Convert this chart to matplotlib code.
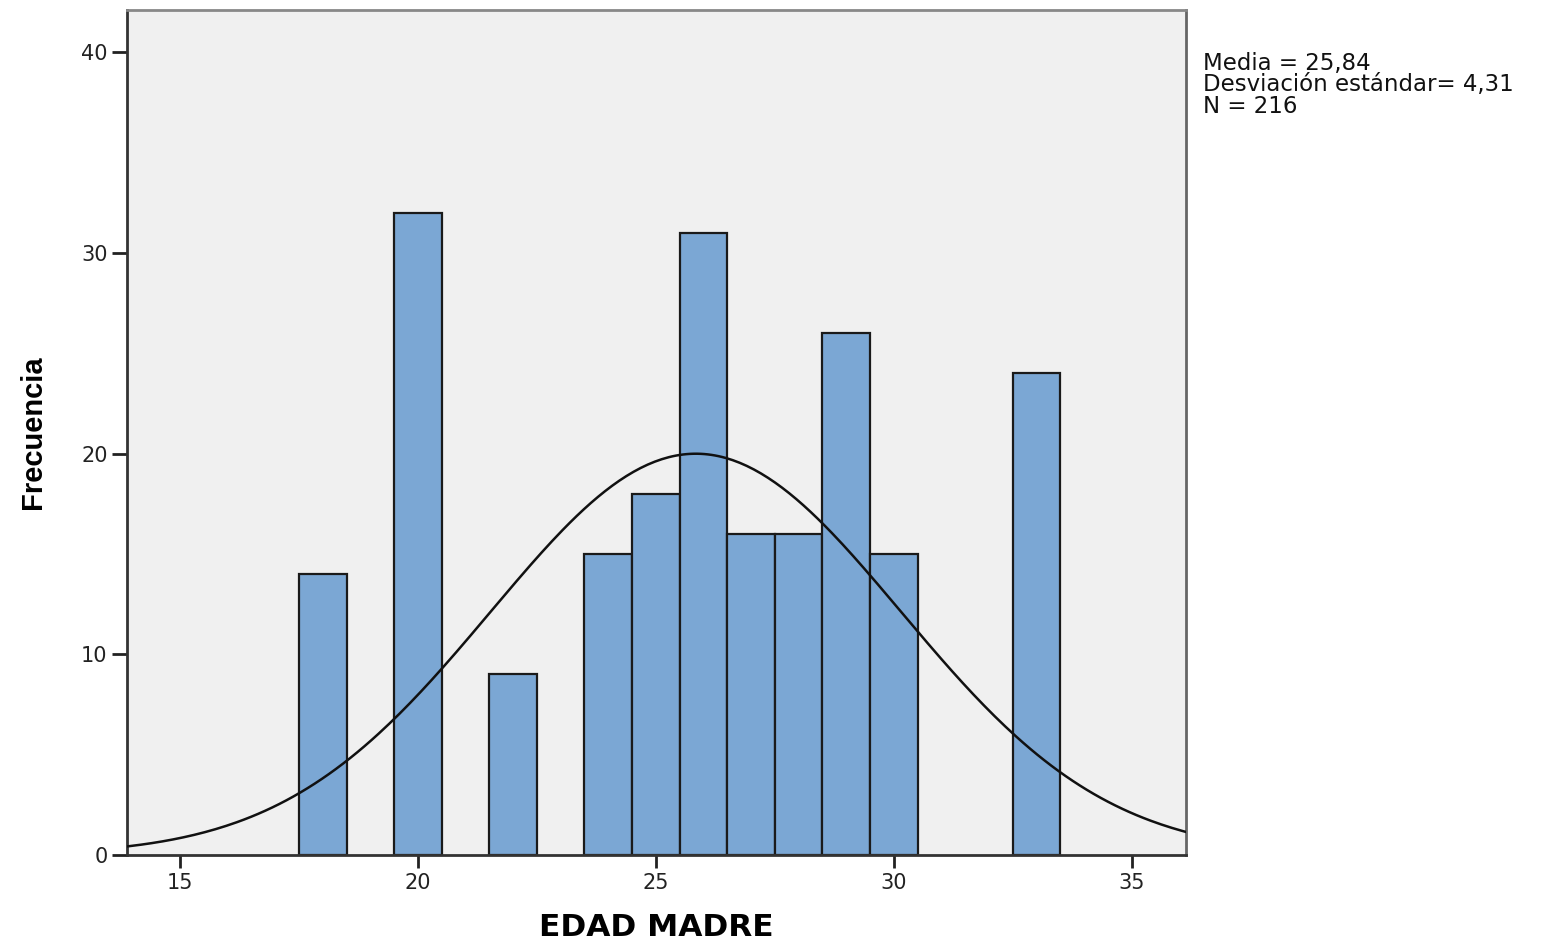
import numpy as np
import matplotlib
matplotlib.use("Agg")
from matplotlib import pyplot as plt

# datos del histograma (EDAD MADRE)
edades = [18, 20, 22, 24, 25, 26, 27, 28, 29, 30, 33]
frecuencias = [14, 32, 9, 15, 18, 31, 16, 16, 26, 15, 24]
media = 25.84
desv = 4.31
n = 216
xticks = [15, 20, 25, 30, 35]
yticks = [0, 10, 20, 30, 40]

plt.rcParams["font.family"] = ["DejaVu Sans"]

fig = plt.figure(figsize=(15.45, 9.43), dpi=100)
ax = fig.add_axes([0.0822, 0.0933, 0.6854, 0.8961])
ax.set_facecolor("#f0f0f0")

ax.bar(edades, frecuencias, width=1.0, color="#7ba7d4", edgecolor="#1a1a1a", linewidth=1.6, zorder=2)

# curva normal escalada
xx = np.linspace(13.886, 36.14, 300)
yy = n * 1.0 / (desv * np.sqrt(2 * np.pi)) * np.exp(-0.5 * ((xx - media) / desv) ** 2)
ax.plot(xx, yy, color="#111111", linewidth=1.8, zorder=3)

ax.set_xlim(13.886, 36.14)
ax.set_ylim(0, 42.1)
ax.set_xticks(xticks)
ax.set_yticks(yticks)
ax.tick_params(axis="both", direction="out", width=2, labelsize=15, colors="#222222")
ax.tick_params(axis="y", length=11, pad=3)
ax.tick_params(axis="x", length=9, pad=4)
for s in ax.spines.values():
    s.set_linewidth(2)
    s.set_color("#333333")
ax.spines["top"].set_color("#888888")
ax.spines["right"].set_color("#666666")

ax.set_xlabel("EDAD MADRE", fontsize=22.5, fontweight="bold")
ax.xaxis.set_label_coords(0.4995, -0.069)
ax.set_ylabel("Frecuencia", fontsize=21, fontweight="bold",
              family=["Liberation Sans", "DejaVu Sans"])
ax.yaxis.set_label_coords(-0.0755, 0.5)

fig.text(0.7786, 0.945, "Media = 25,84\nDesviación estándar= 4,31\nN = 216",
         fontsize=16.5, va="top", ha="left", linespacing=0.92, color="#111111")

fig.savefig("out.png", dpi=100)
